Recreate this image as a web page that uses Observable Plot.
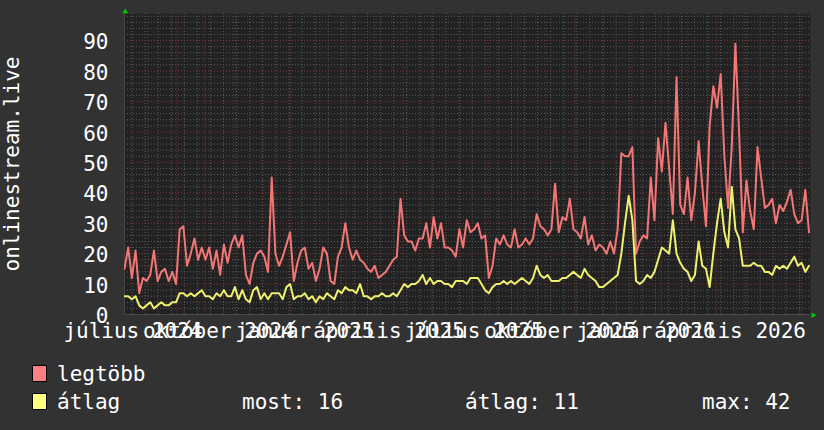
<!DOCTYPE html>
<html><head><meta charset="utf-8">
<script src="https://cdn.jsdelivr.net/npm/d3@7"></script>
<script src="https://cdn.jsdelivr.net/npm/@observablehq/plot@0.6"></script>
<style>
html,body{margin:0;padding:0;background:#323232;}
#wrap{width:824px;height:430px;position:relative;overflow:hidden;font-family:"DejaVu Sans Mono",monospace;color:#fff;}
#legend{position:relative;height:80px;font-size:21px;}
.sw{position:absolute;width:13px;height:15px;border:1px solid #000;}
.tx{position:absolute;line-height:24px;white-space:pre;}
</style></head><body><div id="wrap"><div id="chart"></div><div id="legend"></div></div>
<script>
const seriesNames = ["legtöbb", "átlag"];
const swatchColors = ["#ff8080", "#ffff80"];
const lineColors = ["#f27676", "#f0f070"];
const firstSample = "2024-07-07T00:00Z";
const lastSample = "2026-07-09T10:00Z";
const domainStart = "2024-07-07T00:00Z";
const domainEnd = "2026-07-11T00:00Z";
const maxVals = [
  15,22,12,21,7,12,11,13,21,11,14,15,11,14,10,28,29,16,20,25,18,22,18,22,15,21,13,23,17,23,26,22,26,13,10,17,20,21,19,14,45,20,16,19,23,27,11,
  17,21,22,15,17,11,15,22,20,11,10,19,22,30,22,18,21,18,17,15,14,16,12,13,14,16,18,19,38,26,24,24,21,25,25,30,22,32,25,30,22,22,21,19,28,22,31,27,
  28,30,25,26,12,16,25,23,26,23,22,28,22,23,25,23,25,33,29,28,26,28,43,27,32,31,38,28,27,25,32,23,26,21,23,22,20,24,20,28,53,52,52,55,20,24,26,
  25,45,31,58,47,63,48,33,78,36,33,45,31,40,57,42,29,62,75,68,79,52,35,55,89,60,27,44,34,28,55,45,35,36,38,30,36,34,37,41,33,30,31,41,27
];
const avgVals = [
  6,6,5,6,3,2,3,4,2,3,4,3,3,4,4,7,7,6,7,6,7,8,6,6,5,7,6,8,6,6,9,5,8,5,4,8,9,5,7,5,7,7,7,5,9,10,5,
  6,6,7,5,6,4,6,5,7,6,5,8,7,9,8,8,7,10,6,6,5,6,6,7,6,6,7,6,8,10,9,10,10,11,13,10,12,10,11,11,10,10,9,11,11,11,10,12,
  12,12,10,8,7,9,10,10,11,10,11,10,11,12,11,10,12,16,13,12,13,11,11,11,12,12,13,14,13,12,15,13,12,11,9,9,10,11,12,13,20,30,39,31,11,10,11,
  13,12,14,18,22,21,20,31,20,17,15,14,11,13,24,16,15,9,20,30,38,27,22,42,28,25,16,16,16,17,16,16,14,14,13,16,15,16,15,17,19,16,17,14,16
];
const yTicks = [0,10,20,30,40,50,60,70,80,90];
const yMax = 98.9;
const yTitle = "onlinestream.live";
const monthNames = ["január","február","március","április","május","június","július","augusztus","szeptember","október","november","december"];
const labelMonths = ["2024-07","2024-10","2025-01","2025-04","2025-07","2025-10","2026-01","2026-04"];
const legendStats = [["most", 16], ["átlag", 11], ["max", 42]];

// build table
const t0 = Date.parse(firstSample), t1 = Date.parse(lastSample);
const n = maxVals.length;
const step = (t1 - t0) / (n - 1);
const data = maxVals.map((v, i) => ({date: new Date(t0 + i * step), max: v, avg: avgVals[i]}));

const xStart = new Date(domainStart), xEnd = new Date(domainEnd);
const labelDates = labelMonths.map(s => { const [y, m] = s.split("-").map(Number); return new Date(Date.UTC(y, m - 1, 16)); });
const majorX = d3.utcMonth.range(xStart, xEnd);
const minorX = d3.utcMonday.every(2).range(xStart, xEnd);
const majorY = d3.range(10, yMax, 10);
const minorY = d3.range(2, yMax, 2).filter(v => v % 10 !== 0);

const upArrow = {draw(ctx) { ctx.moveTo(-2.8, 2.2); ctx.lineTo(2.8, 2.2); ctx.lineTo(0, -2.6); ctx.closePath(); }};
const rightArrow = {draw(ctx) { ctx.moveTo(0, -2.8); ctx.lineTo(0, 2.8); ctx.lineTo(5, 0); ctx.closePath(); }};

const chart = Plot.plot({
  width: 824, height: 350,
  marginLeft: 124, marginRight: 14, marginTop: 13, marginBottom: 36,
  style: {background: "transparent", color: "#fff", fontFamily: "DejaVu Sans Mono", fontSize: "21px"},
  x: {type: "utc", domain: [xStart, xEnd], axis: null},
  y: {domain: [0, yMax], axis: null},
  marks: [
    Plot.frame({fill: "#222222", stroke: null}),
    Plot.ruleY(minorY, {stroke: "#5c5c5c", strokeDasharray: "1,2"}),
    Plot.ruleX(minorX, {stroke: "#5c5c5c", strokeDasharray: "1,2"}),
    Plot.ruleY(majorY, {stroke: "#7c3636", strokeDasharray: "1,2"}),
    Plot.ruleX(majorX, {stroke: "#7c3636", strokeDasharray: "1,2"}),
    Plot.ruleY([0], {stroke: "#4a4a4a"}),
    Plot.ruleX([xStart], {stroke: "#444444"}),
    Plot.lineY(data, {x: "date", y: "max", stroke: lineColors[0], strokeWidth: 2, clip: true}),
    Plot.lineY(data, {x: "date", y: "avg", stroke: lineColors[1], strokeWidth: 2, clip: true}),
    Plot.axisY({ticks: yTicks, tickSize: 0, tickPadding: 16, dy: 2, label: null, fontSize: 21}),
    Plot.axisX({ticks: labelDates, tickSize: 0, tickPadding: 9, label: null, fontSize: 21,
      tickFormat: d => monthNames[d.getUTCMonth()] + " " + d.getUTCFullYear()}),
    Plot.text([yTitle], {text: d => d, frameAnchor: "left", rotate: -90, dx: -112.5, fontSize: 21, fill: "#fff", textAnchor: "middle", lineAnchor: "middle"}),
    Plot.dot([0], {frameAnchor: "top-left", symbol: upArrow, fill: "#00cc00", stroke: null, dx: 0.8, dy: -2.5}),
    Plot.dot([0], {frameAnchor: "bottom-right", symbol: rightArrow, fill: "#00cc00", stroke: null, dx: 1, dy: 0.8})
  ]
});
document.getElementById("chart").appendChild(chart);

// legend
const lg = document.getElementById("legend");
function add(cls, left, top, text, bg) {
  const e = document.createElement("div");
  e.className = cls; e.style.left = left + "px"; e.style.top = top + "px";
  if (text != null) e.textContent = text;
  if (bg) e.style.background = bg;
  lg.appendChild(e);
}
add("sw", 32, 15, null, swatchColors[0]);
add("tx", 57, 12, seriesNames[0]);
add("sw", 32, 43, null, swatchColors[1]);
add("tx", 57, 40, seriesNames[1]);
const statX = [242, 465, 702];
legendStats.forEach(([k, v], i) => add("tx", statX[i], 40, k + ": " + v));
</script></body></html>
